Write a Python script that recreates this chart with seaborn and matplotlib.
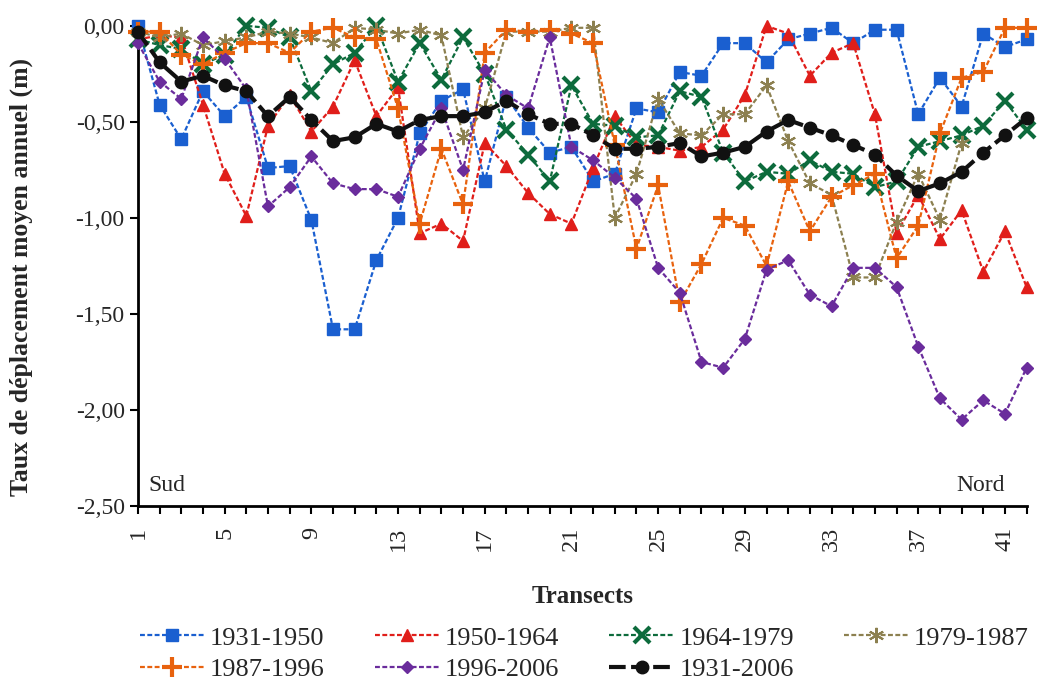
import numpy as np
import pandas as pd
import seaborn as sns
import matplotlib.pyplot as plt
from matplotlib.ticker import FuncFormatter, MultipleLocator

# Data (taux de déplacement, m/an)

transects = list(range(1, 43))

p1931_1950 = [0.00, -0.41, -0.59, -0.34, -0.47, -0.37, -0.74, -0.73, -1.01, -1.58,
              -1.58, -1.22, -1.00, -0.56, -0.39, -0.33, -0.81, -0.37, -0.53, -0.66,
              -0.63, -0.81, -0.77, -0.43, -0.45, -0.24, -0.26, -0.09, -0.09, -0.19,
              -0.07, -0.04, -0.01, -0.09, -0.02, -0.02, -0.46, -0.27, -0.42, -0.04,
              -0.11, -0.07]
p1950_1964 = [-0.07, -0.05, -0.06, -0.41, -0.77, -0.99, -0.52, -0.36, -0.55, -0.42,
              -0.18, -0.47, -0.32, -1.08, -1.03, -1.12, -0.61, -0.73, -0.87, -0.98,
              -1.03, -0.74, -0.47, -0.62, -0.63, -0.65, -0.63, -0.54, -0.36, 0.00,
              -0.04, -0.26, -0.14, -0.09, -0.46, -1.08, -0.88, -1.11, -0.96, -1.28,
              -1.07, -1.36]
p1964_1979 = [-0.07, -0.10, -0.12, -0.20, -0.15, 0.00, -0.01, -0.06, -0.34, -0.20,
              -0.14, 0.00, -0.29, -0.09, -0.28, -0.06, -0.25, -0.54, -0.67, -0.81,
              -0.31, -0.51, -0.52, -0.58, -0.57, -0.34, -0.37, -0.66, -0.81, -0.76,
              -0.77, -0.70, -0.76, -0.77, -0.84, -0.81, -0.63, -0.60, -0.57, -0.52,
              -0.39, -0.54]
p1979_1987 = [-0.03, -0.06, -0.04, -0.10, -0.08, -0.06, -0.03, -0.04, -0.06, -0.09,
              -0.01, -0.02, -0.04, -0.02, -0.05, -0.58, -0.43, -0.03, -0.03, -0.03,
              -0.01, -0.01, -1.00, -0.77, -0.38, -0.56, -0.57, -0.46, -0.46, -0.31,
              -0.60, -0.82, -0.88, -1.31, -1.31, -1.02, -0.77, -1.01, -0.61, np.nan,
              np.nan, np.nan]
p1987_1996 = [-0.03, -0.03, -0.15, -0.20, -0.14, -0.09, -0.09, -0.14, -0.03, -0.01,
              -0.06, -0.07, -0.43, -1.03, -0.64, -0.93, -0.14, -0.02, -0.03, -0.02,
              -0.04, -0.09, -0.62, -1.16, -0.83, -1.44, -1.24, -1.00, -1.04, -1.25,
              -0.81, -1.07, -0.89, -0.83, -0.77, -1.21, -1.04, -0.56, -0.27, -0.24,
              -0.01, -0.01]
p1996_2006 = [-0.09, -0.29, -0.38, -0.06, -0.17, -0.33, -0.94, -0.84, -0.68, -0.82,
              -0.85, -0.85, -0.89, -0.64, -0.43, -0.75, -0.23, -0.36, -0.43, -0.06,
              -0.63, -0.70, -0.79, -0.90, -1.26, -1.39, -1.75, -1.78, -1.63, -1.27,
              -1.22, -1.40, -1.46, -1.26, -1.26, -1.36, -1.67, -1.94, -2.05, -1.95,
              -2.02, -1.78]
p1931_2006 = [-0.03, -0.19, -0.29, -0.26, -0.31, -0.34, -0.47, -0.37, -0.49, -0.60,
              -0.58, -0.51, -0.55, -0.49, -0.47, -0.47, -0.45, -0.39, -0.46, -0.51,
              -0.51, -0.57, -0.64, -0.64, -0.63, -0.61, -0.68, -0.66, -0.63, -0.55,
              -0.49, -0.53, -0.57, -0.62, -0.67, -0.78, -0.86, -0.82, -0.76, -0.66,
              -0.57, -0.48]

labels = ['1931-1950', '1950-1964', '1964-1979', '1979-1987',
          '1987-1996', '1996-2006', '1931-2006']
series = [p1931_1950, p1950_1964, p1964_1979, p1979_1987,
          p1987_1996, p1996_2006, p1931_2006]

# style of each series: colour, marker, size, edge width
styles = [
    ('#1a5fd0', 's', 8, 1.0),
    ('#e01e1a', '^', 8, 1.0),
    ('#0d6b3c', 'x', 11, 3.0),
    ('#8c8050', (6, 2, 0), 11, 1.5),
    ('#e8620e', '+', 15, 3.0),
    ('#6a2c9c', 'D', 6, 1.0),
    ('#111111', 'o', 9, 1.0),
]

sns.set_style('ticks')
plt.rcParams['font.family'] = ['Liberation Serif', 'DejaVu Serif']

fig = plt.figure(figsize=(10.37, 6.81), dpi=100)
ax = fig.add_axes([0.133, 0.257, 0.857, 0.705])

handles = []
for lab, vals, (col, mk, ms, mew) in zip(labels, series, styles):
    df = pd.DataFrame({'transect': transects, 'taux': vals}).dropna()
    black = lab == '1931-2006'
    sns.lineplot(data=df, x='transect', y='taux', ax=ax, color=col,
                 marker=mk, markersize=ms, markeredgewidth=mew,
                 markeredgecolor=col, markerfacecolor=col,
                 linewidth=3.0 if black else 1.6,
                 dashes=False, clip_on=False, label=lab, zorder=5 if black else 3)
    ln = ax.get_lines()[-1]
    ln.set_linestyle((0, (4, 1.3)) if black else (0, (2.2, 1.1)))
    handles.append(ln)

ax.get_legend().remove()

ax.set_xlim(1, 42)
ax.set_ylim(-2.5, 0)
ax.set_xticks(range(1, 43))
ax.set_xticklabels([str(t) if (t - 1) % 4 == 0 else '' for t in transects],
                   rotation=90, fontsize=17.5)
ax.yaxis.set_major_locator(MultipleLocator(0.5))
ax.yaxis.set_major_formatter(FuncFormatter(
    lambda v, p: '0,00' if abs(v) < 1e-9 else f'{v:.2f}'.replace('.', ',')))
ax.tick_params(axis='y', labelsize=17, length=6, width=1.5, color='black')
ax.tick_params(axis='x', length=6, width=1.5, color='black', pad=9)

for s in ['top', 'right']:
    ax.spines[s].set_visible(False)
for s in ['left', 'bottom']:
    ax.spines[s].set_linewidth(2)
    ax.spines[s].set_color('black')

ax.set_xlabel('Transects', fontsize=18, fontweight='bold', labelpad=24)
ax.set_ylabel('Taux de déplacement moyen annuel (m)', fontsize=18.5,
              fontweight='bold')
ax.yaxis.set_label_coords(-0.118, 0.477)

ax.text(1.5, -2.45, 'Sud', fontsize=17, ha='left', va='bottom')
ax.text(41.0, -2.45, 'Nord', fontsize=17, ha='right', va='bottom')

order = [0, 4, 1, 5, 2, 6, 3]
fig.legend([handles[i] for i in order], [labels[i] for i in order],
           ncol=4, loc='lower left', bbox_to_anchor=(0.135, 0.0),
           frameon=False, fontsize=19, handlelength=2.45, handletextpad=0.2,
           columnspacing=1.9, labelspacing=0.3, borderpad=0, borderaxespad=0)

fig.savefig('out.png', dpi=100)
